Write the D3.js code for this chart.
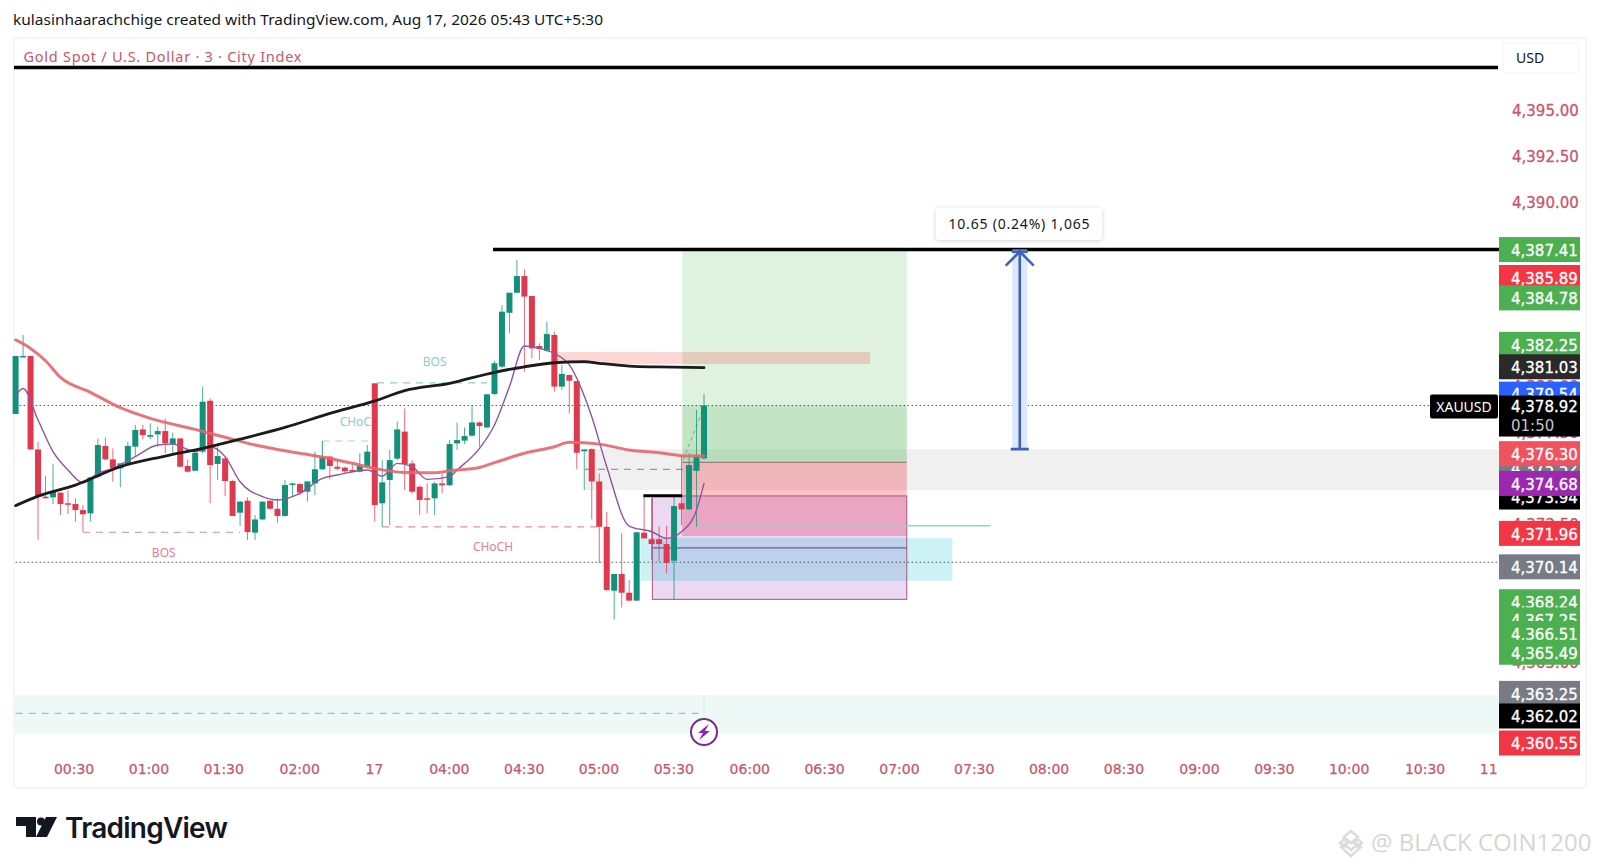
<!DOCTYPE html>
<html>
<head>
<meta charset="utf-8">
<script src="https://cdn.jsdelivr.net/npm/d3@7"></script>
<style>
  html, body { margin: 0; padding: 0; background: #fff; overflow: hidden; }
  svg { display: block; font-family: "DejaVu Sans", sans-serif; }
</style>
</head>
<body>
<svg id="chart" width="1600" height="868"></svg>
<script>
// candles, 3 min bars
const barOpen = [
  4378.46,4381.58,4381.62,4376.53,4373.96,4373.92,4374.18,4373.60,4373.56,4373.23,
  4373.05,4375.05,4376.72,4375.99,4375.50,4375.74,4376.68,4377.62,4377.22,4377.35,
  4377.53,4376.82,4377.13,4375.63,4375.37,4376.41,4379.18,4375.74,4376.04,4374.81,
  4373.09,4373.74,4372.00,4372.72,4373.74,4373.30,4372.91,4374.65,4374.65,4374.23,
  4374.68,4375.45,4376.14,4375.59,4375.54,4375.41,4375.32,4375.59,4380.13,
  4373.60,4374.87,4376.03,4377.50,4375.77,4374.50,4373.87,4373.87,4374.68,4374.58,
  4376.86,4377.01,4377.28,4378.00,4377.73,4379.55,4381.04,4383.97,4385.06,4385.97,
  4384.88,4382.16,4381.91,4382.76,4379.95,4380.58,4380.25,4376.43,4376.55,4374.79,
  4372.32,4368.84,4369.75,4368.73,4368.30,4372.00,4371.64,4371.64,4371.38,4370.47,
  4373.60,4373.27,4375.37,4376.04
];
const barHigh = [
  4381.62,4382.76,4381.62,4376.95,4375.08,4375.74,4374.18,4374.32,4373.87,4373.50,
  4375.05,4377.13,4377.19,4376.59,4375.77,4376.95,4377.86,4377.86,4377.95,4377.77,
  4378.22,4377.44,4377.13,4375.99,4376.50,4379.95,4379.31,4376.68,4376.14,4374.87,
  4373.69,4373.92,4372.96,4373.69,4373.74,4373.87,4374.87,4374.72,4374.68,4374.79,
  4376.41,4376.99,4376.17,4375.95,4375.59,4375.68,4376.32,4376.77,4380.13,
  4375.95,4376.50,4378.04,4378.77,4375.95,4374.54,4374.68,4374.77,4375.23,4377.04,
  4377.99,4377.73,4378.95,4378.04,4379.55,4381.36,4384.39,4385.06,4386.84,4386.33,
  4384.88,4382.31,4383.48,4382.94,4381.13,4380.62,4380.25,4376.53,4376.59,4375.23,
  4373.14,4369.75,4371.96,4369.42,4372.05,4373.99,4373.87,4372.32,4372.36,4373.96,
  4376.23,4376.32,4378.68,4379.55
];
const barLow = [
  4378.46,4381.58,4376.53,4371.60,4373.87,4373.56,4372.96,4373.01,4372.60,4372.05,
  4372.60,4374.96,4375.95,4374.77,4374.47,4375.74,4376.14,4377.08,4377.08,4376.68,
  4376.32,4376.35,4375.55,4375.28,4375.37,4376.32,4373.60,4374.87,4373.99,4372.91,
  4372.36,4371.60,4371.60,4372.69,4373.27,4372.54,4372.87,4373.96,4374.05,4373.69,
  4374.05,4375.41,4374.90,4375.41,4375.23,4375.32,4375.28,4375.59,4372.60,
  4372.32,4372.41,4375.95,4374.32,4374.14,4372.96,4373.05,4372.96,4374.14,4374.54,
  4376.50,4376.82,4377.22,4376.68,4377.68,4379.49,4380.94,4382.85,4385.03,4380.76,
  4381.49,4381.40,4381.85,4379.67,4379.76,4378.49,4375.45,4374.32,4372.72,4370.33,
  4368.84,4367.28,4367.93,4368.30,4368.30,4371.69,4370.51,4370.42,4369.78,4368.33,
  4372.41,4373.23,4372.32,4375.99
];
const barClose = [
  4381.62,4381.62,4376.53,4373.96,4373.87,4374.23,4373.56,4373.56,4373.23,4373.00,
  4375.01,4376.77,4375.99,4375.50,4375.77,4376.72,4377.59,4377.31,4377.31,4377.53,
  4376.86,4377.13,4375.59,4375.32,4376.35,4379.13,4375.68,4376.17,4374.81,4372.91,
  4373.69,4372.03,4372.72,4373.69,4373.30,4372.91,4374.59,4374.68,4374.18,4374.79,
  4375.45,4376.14,4375.63,4375.48,4375.34,4375.37,4375.63,4376.41,4373.50,
  4374.74,4375.95,4377.62,4375.74,4374.23,4373.78,4373.81,4374.68,4374.58,4376.82,
  4377.04,4377.26,4378.00,4377.80,4379.53,4381.22,4384.03,4385.06,4385.97,4384.85,
  4382.03,4382.00,4382.81,4379.95,4380.64,4380.27,4376.35,4376.53,4374.79,4372.32,
  4368.88,4369.75,4368.73,4368.30,4372.02,4371.69,4371.38,4371.38,4370.36,4373.45,
  4373.27,4375.68,4376.17,4378.92
];

// moving averages, read at these bars
const emaBars = [0,2,4,6,10,14,18,24,28,32,38,42,46,48,52,56,58,62,64,68,72,74,76,78,82,86,90,92];
const emaValues = [4382.49,4382.03,4381.36,4380.45,4379.64,4378.80,4378.22,4377.62,4377.19,4376.77,4376.32,4376.04,4375.68,4375.50,4375.28,4375.26,4375.37,4375.55,4375.81,4376.32,4376.68,4376.92,4376.90,4376.82,4376.50,4376.35,4376.17,4376.17];
const smaBars = [0,3,8,14,20,25,30,36,42,48,52,58,64,68,72,76,78,82,86,92];
const smaValues = [4373.47,4373.99,4374.59,4375.59,4376.17,4376.59,4377.09,4377.73,4378.49,4379.17,4379.73,4380.13,4380.73,4381.03,4381.25,4381.31,4381.22,4381.07,4381.02,4380.98];
const fastBars = [0,1,3,5,7,9,11,13,16,19,21,24,26,28,30,33,35,38,41,43,47,49,51,53,55,58,59,62,64,66,68,70,72,74,77,79,82,85,87,89,91,92];
const fastValues = [4379.44,4379.85,4378.13,4376.41,4375.41,4374.72,4375.23,4375.50,4376.14,4376.77,4376.82,4376.41,4376.68,4376.14,4374.77,4373.96,4373.78,4374.14,4374.96,4375.14,4375.41,4375.08,4375.77,4375.59,4374.90,4375.05,4375.41,4376.59,4377.86,4379.95,4382.16,4382.03,4381.76,4381.13,4378.31,4375.59,4372.36,4372.05,4371.69,4372.05,4373.23,4374.68];

// price scale
const axisTicks = [4395,4392.5,4390,4387.5,4385,4382.5,4380,4377.5,4375,4372.5,4370,4367.5,4365,4362.5];
const labelPrices = [4387.41,4385.89,4384.78,4382.25,4381.03,4379.54,4375.52,4376.30,4373.94,4374.68,4371.96,4370.14,4368.24,4367.25,4366.51,4365.49,4363.25,4362.02,4360.55];
const labelKinds = ['green','red','green','green','dark','blue','gray','salmon','black','purple','red','gray','green','green','green','green','gray','black','red'];
const lastPrice = 4378.92;
const countdown = '01:50';
const levelLow = 4370.39;

// time scale
const timeLabels = ['00:30','01:00','01:30','02:00','17','04:00','04:30','05:00','05:30','06:00','06:30','07:00','07:30','08:00','08:30','09:00','09:30','10:00','10:30','11'];
const timeBars = [7.75,17.75,27.75,37.9,47.9,57.9,67.9,77.9,87.9,98.05,108.05,118.05,128.05,138.05,148.05,158.15,168.15,178.15,188.3,196.8];

// drawings: bar range and price range
const zoneBars = [[-0.2,198.3],[76.1,198.3],[89.1,119.1],[89.1,119.1],[72.4,114.2],[89.1,119.1],[85.1,119.1],[83.5,125.2]];
const zonePrices = [[4363.16,4361.06],[4376.55,4374.32],[4387.41,4378.92],[4378.92,4375.83],[4381.83,4381.18],[4375.83,4371.82],[4374.00,4368.37],[4371.71,4369.38]];
const dashBars = [[48.3,63],[41,48],[9,30],[49,78],[76.1,91.1],[0,92]];
const dashPrices = [4380.15,4376.99,4372.02,4372.32,4375.45,4362.16];
const structureNames = ['BOS','CHoC','BOS','CHoCH'];
const structureBars = [56,45.4,19.8,63.8];
const structurePrices = [4381.07,4377.80,4370.70,4371.01];
const targetBar = 134.2;
const moveBase = 4376.55;
const moveText = '10.65 (0.24%) 1,065';

const zoneFills = ['#eef8f7','#f0f0f0','rgba(76,175,80,.18)','rgba(76,175,80,.33)','rgba(242,100,90,.26)','rgba(242,54,69,.31)','rgba(156,39,176,.18)','rgba(0,188,212,.2)'];
const dashColors = ['#8fd0c8','#a8d8d0','#d9a8ae','#e58f9b','#999','#8fc7c3'];
const structureColors = ['#86cfc8','#86cfc8','#e08090','#e08090'];
const kindColors = { green: '#4caf50', red: '#f23645', salmon: '#f0525f', dark: '#2a2a2a', black: '#000', blue: '#2962ff', gray: '#787b86', purple: '#9c27b0' };
const upColor = '#12917a', downColor = '#e0394d', axisRed = '#c8566a';

const x = d3.scaleLinear().domain([0, 92]).range([15.6, 704]);
const y = d3.scaleLinear().domain([4395, 4360]).range([110.15, 753.1]);
const svg = d3.select('#chart');

// header
svg.append('text').attr('x', 13).attr('y', 25).attr('font-size', 14).attr('fill', '#131722')
  .attr('font-family', '"Noto Sans"').attr('textLength', 590).attr('lengthAdjust', 'spacingAndGlyphs')
  .text('kulasinhaarachchige created with TradingView.com, Aug 17, 2026 05:43 UTC+5:30');

// frame
svg.append('rect').attr('x', 14).attr('y', 38).attr('width', 1572).attr('height', 750)
  .attr('fill', '#fff').attr('stroke', '#f3f3f3').attr('stroke-width', 1.5);

// zones
const zoneData = d3.range(zoneBars.length);
svg.append('g').selectAll('rect').data(zoneData).join('rect')
  .attr('x', i => x(zoneBars[i][0]))
  .attr('width', i => x(zoneBars[i][1]) - x(zoneBars[i][0]))
  .attr('y', i => y(zonePrices[i][0]))
  .attr('height', i => y(zonePrices[i][1]) - y(zonePrices[i][0]))
  .attr('fill', i => zoneFills[i]);

// zone outlines and inner lines
svg.append('rect')
  .attr('x', x(85.1)).attr('width', x(119.1) - x(85.1))
  .attr('y', y(4374.00)).attr('height', y(4368.37) - y(4374.00))
  .attr('fill', 'none').attr('stroke', '#a8557f').attr('stroke-width', 1);
const ruleLine = (b0, b1, p, color, w) => svg.append('line')
  .attr('x1', x(b0)).attr('x2', x(b1)).attr('y1', y(p)).attr('y2', y(p))
  .attr('stroke', color).attr('stroke-width', w);
ruleLine(89.1, 119.1, 4375.83, '#8d6f72', 1);
ruleLine(85.1, 119.1, 4371.17, '#7d4fb0', 1.2);
ruleLine(91.1, 130.3, 4372.38, '#8fd3d0', 1.4);

// dotted levels
[[lastPrice, 189.1], [levelLow, 198.1]].forEach(([p, end]) => {
  ruleLine(0, end, p, '#555', 1).attr('stroke-dasharray', '1.5 2.5');
});

// dashed structure lines
svg.append('g').selectAll('line').data(d3.range(dashBars.length)).join('line')
  .attr('x1', i => x(dashBars[i][0])).attr('x2', i => x(dashBars[i][1]))
  .attr('y1', i => y(dashPrices[i])).attr('y2', i => y(dashPrices[i]))
  .attr('stroke', i => dashColors[i]).attr('stroke-width', 1.2).attr('stroke-dasharray', '7 6');
svg.append('line').attr('x1', x(41)).attr('x2', x(41)).attr('y1', y(4376.99)).attr('y2', y(4376.14))
  .attr('stroke', '#a8d8d0');
svg.append('line').attr('x1', x(92)).attr('x2', x(92)).attr('y1', y(4363.16)).attr('y2', y(4362.16))
  .attr('stroke', '#d5ecea');
svg.append('line').attr('x1', x(89.2)).attr('x2', x(91.8)).attr('y1', y(4375.95)).attr('y2', y(4378.65))
  .attr('stroke', '#6fb58a').attr('stroke-dasharray', '4 3');

svg.append('g').selectAll('text').data(structureNames).join('text')
  .attr('x', (d, i) => x(structureBars[i])).attr('y', (d, i) => y(structurePrices[i]))
  .attr('text-anchor', 'middle').attr('font-size', 12).attr('font-family', '"Noto Sans"')
  .attr('fill', (d, i) => structureColors[i]).text(d => d);

// candles
const bars = svg.append('g').selectAll('g').data(barOpen).join('g')
  .attr('fill', (d, i) => barClose[i] >= d ? upColor : downColor)
  .attr('stroke', (d, i) => barClose[i] >= d ? upColor : downColor);
bars.append('line')
  .attr('x1', (d, i) => x(i)).attr('x2', (d, i) => x(i))
  .attr('y1', (d, i) => y(barHigh[i])).attr('y2', (d, i) => y(barLow[i]))
  .attr('stroke-width', 1).attr('stroke-opacity', .75);
bars.append('rect')
  .attr('x', (d, i) => x(i) - 3).attr('width', 6)
  .attr('y', (d, i) => y(Math.max(d, barClose[i])))
  .attr('height', (d, i) => Math.max(1.5, Math.abs(y(d) - y(barClose[i]))))
  .attr('stroke', 'none');

// moving averages
const maLine = d3.line().x(d => x(d[0])).y(d => y(d[1])).curve(d3.curveMonotoneX);
const drawMa = (barsIdx, vals, color, w, op) => svg.append('path')
  .attr('d', maLine(d3.zip(barsIdx, vals)))
  .attr('fill', 'none').attr('stroke', color).attr('stroke-width', w).attr('stroke-opacity', op)
  .attr('stroke-linecap', 'round');
drawMa(fastBars, fastValues, '#8f55a3', 1.4, 1);
drawMa(emaBars, emaValues, '#e4666c', 3, .9);
drawMa(smaBars, smaValues, '#1b1b1b', 2.8, 1);

// heavy horizontal lines
svg.append('line').attr('x1', 14).attr('x2', 1498).attr('y1', 67.5).attr('y2', 67.5)
  .attr('stroke', '#000').attr('stroke-width', 3.5);
ruleLine(63.8, 198.3, 4387.41, '#000', 3.5);
ruleLine(83.9, 89.1, 4374.01, '#000', 3);

// move arrow
const ax = x(targetBar), arrowTop = y(4387.41), arrowBase = y(moveBase);
svg.append('rect').attr('x', ax - 7.5).attr('width', 15).attr('y', arrowTop).attr('height', arrowBase - arrowTop)
  .attr('fill', '#dce8fb');
svg.append('path')
  .attr('d', `M${ax},${arrowTop}V${arrowBase}M${ax - 9},${arrowBase}H${ax + 9}M${ax - 14},${arrowTop + 16}L${ax},${arrowTop + 2}L${ax + 14},${arrowTop + 16}M${ax - 8},${arrowTop + 2}H${ax + 8}`)
  .attr('fill', 'none').attr('stroke', '#3f62b8').attr('stroke-width', 2.6);

const shadow = svg.append('defs').append('filter').attr('id', 'soft')
  .attr('x', '-20%').attr('y', '-30%').attr('width', '140%').attr('height', '170%');
shadow.append('feDropShadow').attr('dx', 0).attr('dy', 1).attr('stdDeviation', 2.5).attr('flood-color', '#000').attr('flood-opacity', .18);
svg.append('rect').attr('x', 936).attr('y', 208).attr('width', 166).attr('height', 32).attr('rx', 4)
  .attr('fill', '#fff').attr('filter', 'url(#soft)');
svg.append('text').attr('x', 1019).attr('y', 229).attr('text-anchor', 'middle').attr('font-size', 14)
  .attr('fill', '#131722').attr('font-family', '"Noto Sans"').attr('textLength', 141).text(moveText);

// legend
svg.append('text').attr('x', 23.5).attr('y', 62).attr('font-size', 14.5).attr('fill', axisRed)
  .attr('font-family', '"Noto Sans"').attr('textLength', 278)
  .text('Gold Spot / U.S. Dollar · 3 · City Index');

// price axis
const yAxis = d3.axisRight(y).tickValues(axisTicks).tickFormat(d3.format(',.2f')).tickSize(0).tickPadding(0);
const yG = svg.append('g').attr('transform', 'translate(1512,1)').call(yAxis);
yG.select('.domain').remove();
yG.selectAll('text').attr('fill', axisRed).attr('stroke', axisRed).attr('stroke-width', .3)
  .attr('font-size', 15).attr('font-family', '"DejaVu Sans"');

// price labels, later ones sit on top
const fmt = d3.format(',.2f');
const labelG = svg.append('g').selectAll('g').data(labelPrices).join('g')
  .attr('transform', d => `translate(1499,${y(d)})`);
labelG.append('rect').attr('y', -12.5).attr('width', 81).attr('height', 25)
  .attr('fill', (d, i) => kindColors[labelKinds[i]]);
labelG.append('text').attr('x', 12).attr('dy', '.42em').attr('font-size', 15).attr('fill', '#fff')
  .attr('stroke', '#fff').attr('stroke-width', .3).text(d => fmt(d));

// current price
svg.append('rect').attr('x', 1499).attr('y', y(lastPrice) - 10).attr('width', 81).attr('height', 41).attr('fill', '#000');
svg.append('text').attr('x', 1511).attr('y', y(lastPrice)).attr('dy', '.42em').attr('font-size', 15).attr('fill', '#fff')
  .attr('stroke', '#fff').attr('stroke-width', .3).text(fmt(lastPrice));
svg.append('text').attr('x', 1511).attr('y', y(lastPrice) + 19).attr('dy', '.42em').attr('font-size', 15).attr('fill', '#c4c4c4').text(countdown);
svg.append('rect').attr('x', 1430).attr('y', y(lastPrice) - 11).attr('width', 68).attr('height', 24).attr('rx', 2).attr('fill', '#000');
svg.append('text').attr('x', 1464).attr('y', y(lastPrice) + 1).attr('dy', '.36em').attr('text-anchor', 'middle')
  .attr('font-size', 14).attr('fill', '#fff').attr('font-family', '"Noto Sans"').text('XAUUSD');

// USD box
svg.append('rect').attr('x', 1503).attr('y', 43).attr('width', 76).attr('height', 30).attr('rx', 3)
  .attr('fill', '#fff').attr('stroke', '#f2f2f2');
svg.append('text').attr('x', 1516).attr('y', 63).attr('font-size', 14).attr('fill', '#131722')
  .attr('font-family', '"Noto Sans"').text('USD');

// time axis
const xAxis = d3.axisBottom(x).tickValues(timeBars).tickFormat((d, i) => timeLabels[i]).tickSize(0).tickPadding(0);
const xG = svg.append('g').attr('transform', 'translate(0,764)').call(xAxis);
xG.select('.domain').remove();
xG.selectAll('text').attr('fill', axisRed).attr('stroke', axisRed).attr('stroke-width', .25)
  .attr('font-size', 14).attr('font-family', '"DejaVu Sans"');

// flash marker
const fx = x(92), fy = 732;
svg.append('circle').attr('cx', fx).attr('cy', fy).attr('r', 13).attr('fill', '#fff')
  .attr('stroke', '#7b2a8f').attr('stroke-width', 2);
svg.append('path')
  .attr('d', `M${fx + 5},${fy - 8}L${fx - 6},${fy + 1}H${fx - 1}L${fx - 5},${fy + 8}L${fx + 6},${fy - 1}H${fx + 1}Z`)
  .attr('fill', '#8e24aa');

// logo
svg.append('path').attr('d', 'M16,817H36V837H26V826H16Z M46,817H57L47,837H36Z').attr('fill', '#131722');
svg.append('circle').attr('cx', 41).attr('cy', 821.5).attr('r', 4).attr('fill', '#131722');
svg.append('text').attr('x', 65).attr('y', 838).attr('font-family', 'Inter').attr('font-weight', 600)
  .attr('font-size', 28).attr('fill', '#131722').attr('textLength', 163).text('TradingView');

// watermark
const wm = svg.append('g').attr('fill', 'none').attr('stroke', '#dcdcdc').attr('stroke-width', 2.5);
wm.append('path').attr('d', 'M1351,831l7,6-7,6-7-6Z M1340,843l4-4 4,4-4,4Z M1354,843l4-4 4,4-4,4Z M1351,850l7-6 3,3-10,9-10-9 3-3Z');
svg.append('text').attr('x', 1371).attr('y', 851).attr('font-size', 24).attr('fill', '#d6d6d6')
  .attr('font-family', '"Open Sans"').text('@ BLACK COIN1200');
</script>
</body>
</html>
